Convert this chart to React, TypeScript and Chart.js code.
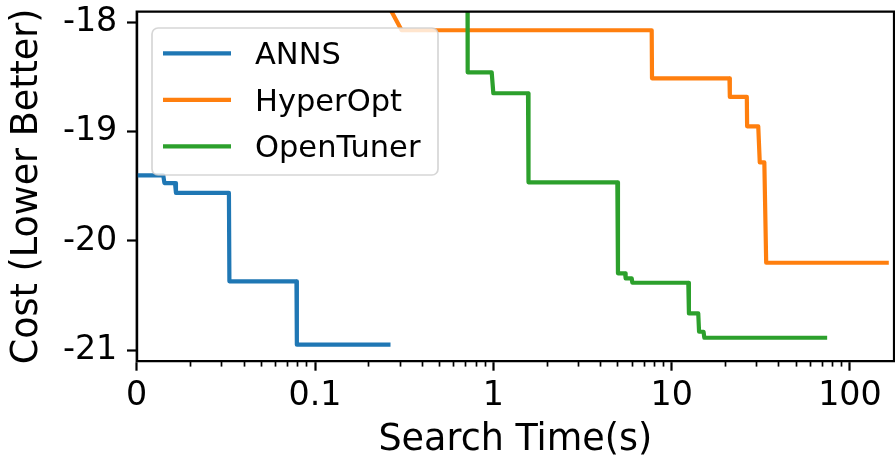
import { useEffect, useRef } from 'react';
import { Chart, registerables } from 'chart.js';

Chart.register(...registerables);

const FONT = 'DejaVu Sans';

const seriesNames = ['ANNS', 'HyperOpt', 'OpenTuner'];
const seriesColors = ['#1f77b4', '#ff7f0e', '#2ca02c'];

// ANNS evaluations (time in s, best cost so far)
const annsTime = [0.01, 0.0141, 0.0143, 0.0164, 0.0166, 0.0329, 0.0331, 0.0787, 0.0791, 0.258];
const annsCost = [-19.4, -19.4, -19.47, -19.47, -19.56, -19.56, -20.37, -20.37, -20.95, -20.95];

// HyperOpt evaluations
const hyperTime = [0.231, 0.306, 7.73, 7.76, 21.1, 21.2, 26.4, 26.5, 30.6, 31.2, 33.1, 33.9, 160.7];
const hyperCost = [-17.7, -18.07, -18.07, -18.51, -18.51, -18.68, -18.68, -18.95, -18.95, -19.28, -19.28, -20.2, -20.2];

// OpenTuner evaluations
const openTime = [0.716, 0.718, 0.979, 1.0, 1.565, 1.575, 4.96, 5.0, 5.48, 5.52, 5.97, 6.02, 12.4, 12.5, 14.1, 14.25, 15.1, 15.25, 72.5];
const openCost = [-17.5, -18.455, -18.455, -18.647, -18.647, -19.463, -19.463, -20.297, -20.297, -20.343, -20.343, -20.383, -20.383, -20.664, -20.664, -20.832, -20.832, -20.887, -20.887];

const xTickValues = [0.01, 0.1, 1, 10, 100];
const xTickLabels = ['0', '0.1', '1', '10', '100'];
const xMinorValues = [
  0.02, 0.03, 0.04, 0.05, 0.06, 0.07, 0.08, 0.09,
  0.2, 0.3, 0.4, 0.5, 0.6, 0.7, 0.8, 0.9,
  2, 3, 4, 5, 6, 7, 8, 9,
  20, 30, 40, 50, 60, 70, 80, 90,
];
const yTickValues = [-21, -20, -19, -18];
const yTickLabels = ['-21', '-20', '-19', '-18'];

const X_MIN = 0.01;
const X_MAX = 176.6;
const Y_MIN = -21.1;
const Y_MAX = -17.9;

function toPoints(xs: number[], ys: number[]) {
  return xs.map((x, i) => ({ x, y: ys[i] }));
}

const framePlugin = {
  id: 'frame',
  afterDatasetsDraw(chart: any) {
    const { ctx, chartArea: a } = chart;
    ctx.save();
    ctx.strokeStyle = '#000';
    ctx.lineWidth = 2.2;
    ctx.lineCap = 'square';
    ctx.beginPath();
    ctx.rect(a.left, a.top, a.right - a.left, a.bottom - a.top);
    ctx.stroke();
    ctx.restore();
  },
};

const legendPlugin = {
  id: 'innerLegend',
  afterDraw(chart: any) {
    const { ctx, chartArea: a } = chart;
    const x0 = a.left + 15.3;
    const y0 = a.top + 16.3;
    const w = 286;
    const h = 147;
    const r = 6;
    ctx.save();
    ctx.beginPath();
    ctx.moveTo(x0 + r, y0);
    ctx.lineTo(x0 + w - r, y0);
    ctx.arcTo(x0 + w, y0, x0 + w, y0 + r, r);
    ctx.lineTo(x0 + w, y0 + h - r);
    ctx.arcTo(x0 + w, y0 + h, x0 + w - r, y0 + h, r);
    ctx.lineTo(x0 + r, y0 + h);
    ctx.arcTo(x0, y0 + h, x0, y0 + h - r, r);
    ctx.lineTo(x0, y0 + r);
    ctx.arcTo(x0, y0, x0 + r, y0, r);
    ctx.closePath();
    ctx.fillStyle = 'rgba(255,255,255,0.8)';
    ctx.fill();
    ctx.strokeStyle = 'rgba(204,204,204,0.8)';
    ctx.lineWidth = 1.7;
    ctx.stroke();

    ctx.font = `30.5px "${FONT}"`;
    ctx.textBaseline = 'alphabetic';
    ctx.textAlign = 'left';
    seriesNames.forEach((name, i) => {
      const rowY = y0 + 25.3 + i * 46.5;
      ctx.beginPath();
      ctx.strokeStyle = seriesColors[i];
      ctx.lineWidth = 4.2;
      ctx.lineCap = 'butt';
      ctx.moveTo(x0 + 11, rowY);
      ctx.lineTo(x0 + 79, rowY);
      ctx.stroke();
      ctx.fillStyle = '#000';
      ctx.fillText(name, x0 + 103, rowY + 11);
    });
    ctx.restore();
  },
};

export default function App() {
  const canvasRef = useRef<HTMLCanvasElement | null>(null);

  useEffect(() => {
    document.body.style.margin = '0';
    const canvas = canvasRef.current;
    if (!canvas) return;
    Chart.defaults.font.family = FONT;

    const common = {
      borderWidth: 4.2,
      pointRadius: 0,
      pointHoverRadius: 0,
      tension: 0,
      fill: false,
      borderJoinStyle: 'round' as const,
      borderCapStyle: 'square' as const,
      clip: 0,
    };

    const chart = new Chart(canvas, {
      type: 'line',
      data: {
        datasets: [
          { ...common, label: seriesNames[0], data: toPoints(annsTime, annsCost), borderColor: seriesColors[0], backgroundColor: seriesColors[0], order: 2 },
          { ...common, label: seriesNames[1], data: toPoints(hyperTime, hyperCost), borderColor: seriesColors[1], backgroundColor: seriesColors[1], order: 1 },
          { ...common, label: seriesNames[2], data: toPoints(openTime, openCost), borderColor: seriesColors[2], backgroundColor: seriesColors[2], order: 0 },
        ],
      },
      options: {
        animation: false,
        responsive: false,
        devicePixelRatio: 1,
        layout: { padding: { top: 11.7, right: 1, left: 0, bottom: 0 } },
        plugins: {
          legend: { display: false },
          tooltip: { enabled: false },
        },
        scales: {
          x: {
            type: 'logarithmic',
            position: 'bottom',
            weight: 1,
            min: X_MIN,
            max: X_MAX,
            afterBuildTicks: (s: any) => {
              s.ticks = xTickValues.map((v) => ({ value: v, major: true }));
            },
            afterFit: (s: any) => {
              s.height = 100;
              s.paddingLeft = 0;
              s.paddingRight = 0;
            },
            ticks: {
              autoSkip: false,
              maxRotation: 0,
              minRotation: 0,
              padding: 6,
              color: '#000',
              font: { family: FONT, size: 33.3 },
              callback: (v: any) => {
                const i = xTickValues.indexOf(Number(v));
                return i >= 0 ? xTickLabels[i] : '';
              },
            },
            grid: {
              display: true,
              drawOnChartArea: false,
              drawTicks: true,
              tickLength: 9.7,
              tickWidth: 2.2,
              tickColor: '#000',
              color: '#000',
            },
            border: { display: true, color: '#000', width: 2.2 },
            title: {
              display: true,
              text: 'Search Time(s)',
              color: '#000',
              font: { family: FONT, size: 36.5 },
              padding: { top: 0, bottom: -1.5 },
            },
          },
          xMinor: {
            type: 'logarithmic',
            axis: 'x',
            position: 'bottom',
            weight: 0,
            min: X_MIN,
            max: X_MAX,
            afterBuildTicks: (s: any) => {
              s.ticks = xMinorValues.map((v) => ({ value: v }));
            },
            afterFit: (s: any) => {
              s.height = 0;
              s.paddingLeft = 0;
              s.paddingRight = 0;
            },
            ticks: { display: false, autoSkip: false },
            grid: {
              display: true,
              drawOnChartArea: false,
              drawTicks: true,
              tickLength: 5.6,
              tickWidth: 1.7,
              tickColor: '#000',
              color: '#000',
            },
            border: { display: false },
          },
          y: {
            type: 'linear',
            position: 'left',
            min: Y_MIN,
            max: Y_MAX,
            afterBuildTicks: (s: any) => {
              s.ticks = yTickValues.map((v) => ({ value: v }));
            },
            afterFit: (s: any) => {
              s.width = 136.7;
              s.paddingTop = 0;
              s.paddingBottom = 0;
            },
            ticks: {
              autoSkip: false,
              padding: 9.7,
              color: '#000',
              font: { family: FONT, size: 33.3 },
              callback: (v: any) => {
                const i = yTickValues.indexOf(Number(v));
                return i >= 0 ? yTickLabels[i] : '';
              },
            },
            grid: {
              display: true,
              drawOnChartArea: false,
              drawTicks: true,
              tickLength: 9.7,
              tickWidth: 2.2,
              tickColor: '#000',
              color: '#000',
            },
            border: { display: true, color: '#000', width: 2.2 },
            title: {
              display: true,
              text: 'Cost (Lower Better)',
              color: '#000',
              font: { family: FONT, size: 36.5 },
              padding: { top: 5.6, bottom: 0 },
            },
          },
        },
      } as any,
      plugins: [framePlugin, legendPlugin],
    });

    return () => {
      chart.destroy();
    };
  }, []);

  return (
    <div style={{ width: 895, height: 461 }}>
      <canvas ref={canvasRef} width={895} height={461} style={{ display: 'block', width: 895, height: 461 }} />
    </div>
  );
}
